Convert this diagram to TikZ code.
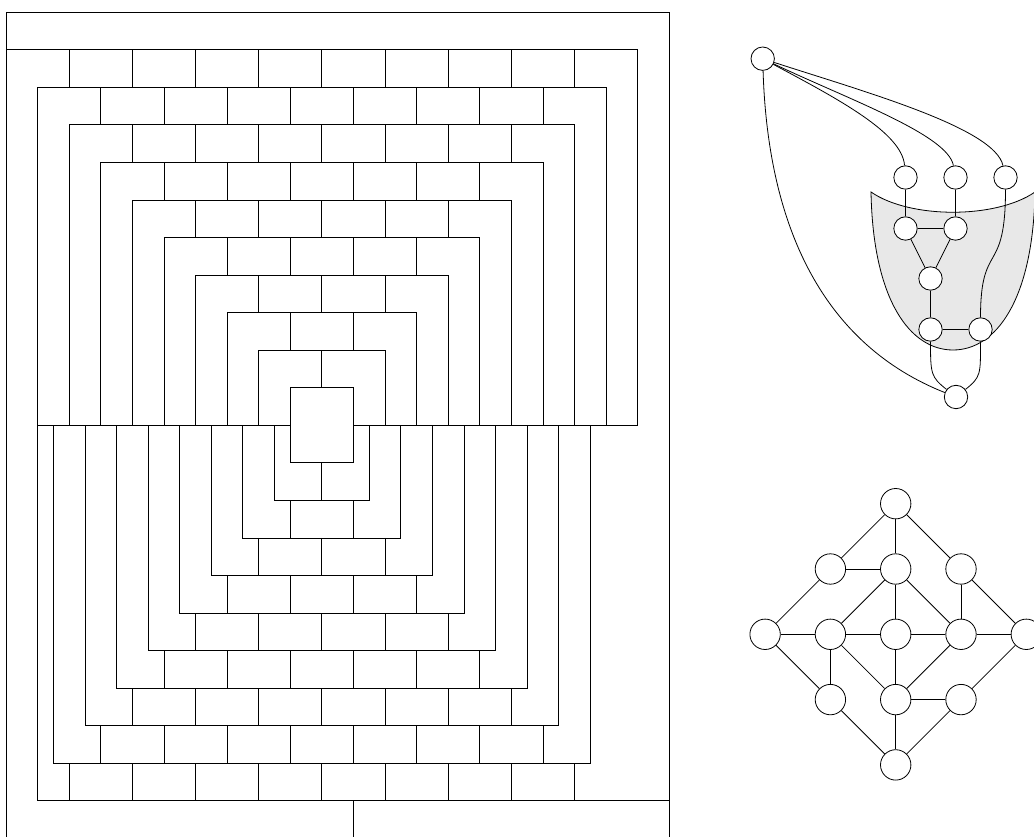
\documentclass[tikz,border=0pt]{standalone}
\begin{document}
\begin{tikzpicture}[x=1pt,y=1pt,line width=0.9pt,
  gn/.style={circle,draw,fill=white,inner sep=0pt,minimum size=23.4pt,line width=0.8pt},
  hn/.style={circle,draw,fill=white,inner sep=0pt,minimum size=30.4pt,line width=0.8pt},
  edge/.style={line width=0.8pt},
  region/.style={draw,line width=0.8pt,fill={rgb,255:red,232;green,232;blue,232}}]
\useasboundingbox (0,0) rectangle (1034,836);

% ---------------- left tiling ----------------
\begin{scope}[shift={(6pt,823.7pt)},x=31.59pt,y=-37.55pt]
  \draw (0,0) rectangle (21,22);
  % top rings
  \foreach \k in {0,...,8}{
    \draw (\k,\k+1) -- (20-\k,\k+1) -- (20-\k,11);
  }
  \foreach \k in {2,...,8}{
    \draw (\k,\k+1) -- (\k,11);
  }
  \draw (1,2) -- (1,21);
  \draw (1,11) -- (9,11);
  \draw (11,11) -- (20,11);
  % central rectangle
  \draw (9,10) rectangle (11,12);
  % top row dividers
  \foreach \r in {0,...,8}{
    \pgfmathtruncatemacro\nn{8-\r}
    \foreach \q in {0,...,\nn}{
      \draw (\r+2+2*\q,\r+1) -- (\r+2+2*\q,\r+2);
    }
  }
  % bottom cups
  \foreach \m in {0,...,7}{
    \draw (8.5-\m,11) -- (8.5-\m,13+\m) -- (11.5+\m,13+\m) -- (11.5+\m,11);
  }
  \draw (1,21) -- (21,21);
  % bottom row dividers
  \foreach \m in {0,...,8}{
    \foreach \q in {0,...,\m}{
      \draw (10-\m+2*\q,12+\m) -- (10-\m+2*\q,13+\m);
    }
  }
  \draw (11,21) -- (11,22);
\end{scope}

% ---------------- upper right graph ----------------
\path[region] (871,644) .. controls (910,617) and (996,617) .. (1035,644)
  .. controls (1033,536) and (996,486) .. (953,486)
  .. controls (910,486) and (873,536) .. (871,644) -- cycle;

\node[gn] (A)  at (762.7,777.3) {};
\node[gn] (N1) at (905.5,658.5) {};
\node[gn] (N2) at (955.5,658.5) {};
\node[gn] (N3) at (1005.5,658.5) {};
\node[gn] (B1) at (905.5,607.5) {};
\node[gn] (B2) at (955.5,607.5) {};
\node[gn] (C)  at (930.5,557.5) {};
\node[gn] (D1) at (930.5,506.5) {};
\node[gn] (D2) at (980.5,506.5) {};
\node[gn] (E)  at (956,439) {};

\draw[edge] (A) .. controls (840,736) and (902,703) .. (N1);
\draw[edge] (A) .. controls (850,736) and (948,701) .. (N2);
\draw[edge] (A) .. controls (865,744) and (995,708) .. (N3);
\draw[edge] (A) .. controls (768,606) and (825,491) .. (E);
\draw[edge] (N1) -- (B1);
\draw[edge] (N2) -- (B2);
\draw[edge] (B1) -- (B2);
\draw[edge] (B1) -- (C);
\draw[edge] (B2) -- (C);
\draw[edge] (C) -- (D1);
\draw[edge] (D1) -- (D2);
\draw[edge] (N3) .. controls +(0,-100) and +(0,90) .. (D2);
\draw[edge] (D1) .. controls +(0,-45) and +(-25,20) .. (E);
\draw[edge] (D2) .. controls +(0,-45) and +(25,20) .. (E);

% ---------------- lower right graph ----------------
\node[hn] (t)  at (895.7,332.3) {};
\node[hn] (l2) at (830.4,267) {};
\node[hn] (m2) at (895.7,267) {};
\node[hn] (r2) at (961,267) {};
\node[hn] (w)  at (765.1,201.7) {};
\node[hn] (c2) at (830.4,201.7) {};
\node[hn] (c3) at (895.7,201.7) {};
\node[hn] (c4) at (961,201.7) {};
\node[hn] (c5) at (1026.3,201.7) {};
\node[hn] (l4) at (830.4,136.4) {};
\node[hn] (m4) at (895.7,136.4) {};
\node[hn] (r4) at (961,136.4) {};
\node[hn] (bt) at (895.7,71.1) {};

\foreach \u/\v in {t/l2,t/m2,t/r2,l2/m2,l2/w,m2/c2,m2/c3,m2/c4,r2/c4,r2/c5,
  w/c2,c2/c3,c3/c4,c4/c5,w/l4,c2/l4,c2/m4,c3/m4,c4/m4,c5/r4,m4/r4,l4/bt,m4/bt,r4/bt}
  \draw[edge] (\u) -- (\v);
\end{tikzpicture}
\end{document}
